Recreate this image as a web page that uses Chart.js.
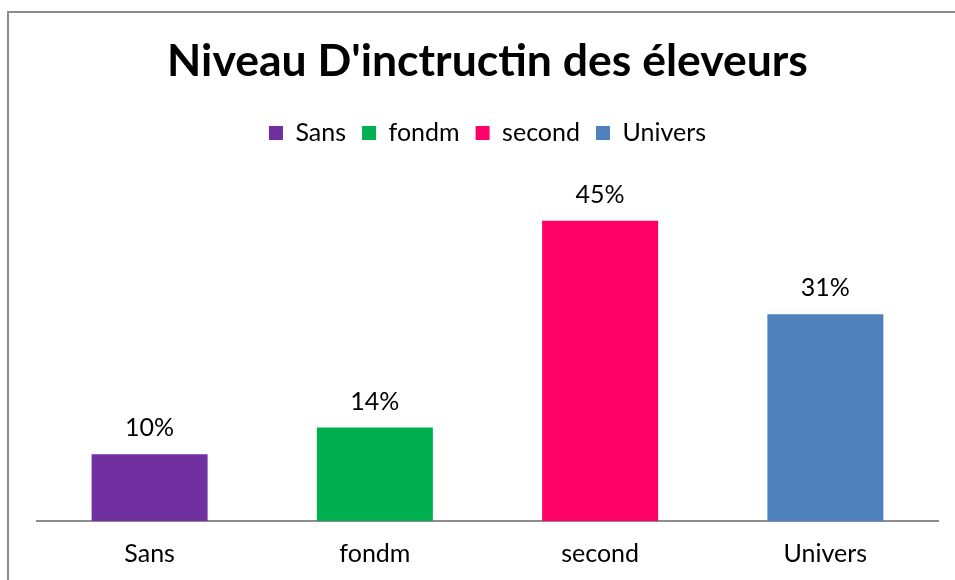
<!DOCTYPE html>
<html>
<head>
<meta charset="utf-8">
<script src="https://cdn.jsdelivr.net/npm/chart.js@4.4.1/dist/chart.umd.min.js"></script>
<style>
  html, body { margin: 0; padding: 0; background: #ffffff; }
  #wrap { position: relative; width: 955px; height: 580px; }
</style>
</head>
<body>
<div id="wrap"><canvas id="c" width="955" height="580"></canvas></div>
<script>
const categories = ["Sans", "fondm", "second", "Univers"];
const values = [0.10, 0.14, 0.45, 0.31];
const valueLabels = ["10%", "14%", "45%", "31%"];
const colors = ["#7030A0", "#00B050", "#FF0066", "#4F81BD"];
const titleText = "Niveau D'inctructin des éleveurs";

const frame = {
  id: 'frame',
  beforeDraw(chart) {
    const ctx = chart.ctx;
    ctx.save();
    ctx.fillStyle = '#ffffff';
    ctx.fillRect(0, 0, chart.width, chart.height);
    ctx.strokeStyle = '#8c8c8c';
    ctx.lineWidth = 2;
    ctx.strokeRect(8, 12, 2000, 2000);
    ctx.restore();
  }
};

const dataLabels = {
  id: 'dataLabels',
  afterDatasetsDraw(chart) {
    const ctx = chart.ctx;
    const meta = chart.getDatasetMeta(0);
    ctx.save();
    ctx.font = '25px Lato';
    ctx.fillStyle = '#000000';
    ctx.textAlign = 'center';
    ctx.textBaseline = 'middle';
    meta.data.forEach((bar, i) => {
      ctx.fillText(valueLabels[i], bar.x, bar.y - 26);
    });
    ctx.restore();
  }
};

new Chart(document.getElementById('c'), {
  type: 'bar',
  data: {
    labels: categories,
    datasets: [{
      data: values,
      backgroundColor: colors,
      borderWidth: 0,
      barPercentage: 0.515,
      categoryPercentage: 1.0
    }]
  },
  options: {
    responsive: false,
    animation: false,
    devicePixelRatio: 1,
    layout: { padding: { left: 37, right: 17, top: 0, bottom: -7 } },
    plugins: {
      title: {
        display: true,
        text: titleText,
        color: '#000000',
        font: { family: 'Lato', size: 44.5, weight: 'bold', lineHeight: 1.2 },
        padding: { top: 35, bottom: 16 }
      },
      legend: {
        display: true,
        position: 'top',
        labels: {
          color: '#000000',
          font: { family: 'Lato', size: 25 },
          boxWidth: 14,
          boxHeight: 14,
          padding: 16,
          generateLabels() {
            return categories.map((c, i) => ({
              text: c,
              fillStyle: colors[i],
              strokeStyle: colors[i],
              lineWidth: 0,
              hidden: false,
              index: i
            }));
          }
        },
        onClick: null
      },
      tooltip: { enabled: false }
    },
    scales: {
      x: {
        grid: { display: false, drawTicks: false },
        border: { display: true, color: '#8c8c8c', width: 2 },
        ticks: { color: '#000000', font: { family: 'Lato', size: 25 }, padding: 18 }
      },
      y: {
        display: false,
        min: 0,
        max: 0.548
      }
    }
  },
  plugins: [frame, dataLabels]
});
</script>
</body>
</html>
